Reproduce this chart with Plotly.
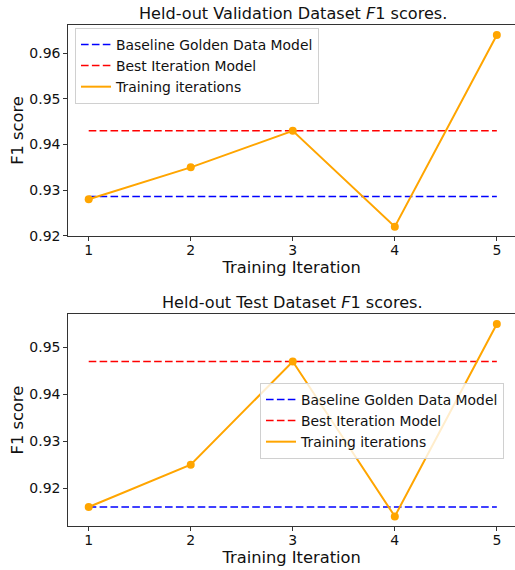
import plotly.graph_objects as go

iterations = [1, 2, 3, 4, 5]
val_scores = [0.928, 0.935, 0.943, 0.922, 0.964]
val_baseline = 0.9286
val_best = 0.943
test_scores = [0.916, 0.925, 0.947, 0.914, 0.955]
test_baseline = 0.916
test_best = 0.947

titles = ["Held-out Validation Dataset <i>F</i>1 scores.",
          "Held-out Test Dataset <i>F</i>1 scores."]
val_yticks = [0.92, 0.93, 0.94, 0.95, 0.96]
test_yticks = [0.92, 0.93, 0.94, 0.95]

FONT = "DejaVu Sans"
W, H = 515, 570
fig = go.Figure()

dash = "7.6px,3.3px"

def add_panel(scores, base, best, xa, ya, legend):
    fig.add_trace(go.Scatter(x=iterations, y=[base] * len(iterations), mode="lines",
                             line=dict(color="blue", width=1.5, dash=dash),
                             name="Baseline Golden Data Model", xaxis=xa, yaxis=ya,
                             legend=legend))
    fig.add_trace(go.Scatter(x=iterations, y=[best] * len(iterations), mode="lines",
                             line=dict(color="red", width=1.5, dash=dash),
                             name="Best Iteration Model", xaxis=xa, yaxis=ya,
                             legend=legend))
    fig.add_trace(go.Scatter(x=iterations, y=scores, mode="lines",
                             line=dict(color="orange", width=2),
                             name="Training iterations", xaxis=xa, yaxis=ya,
                             legend=legend))
    fig.add_trace(go.Scatter(x=iterations, y=scores, mode="markers",
                             marker=dict(color="orange", size=8),
                             showlegend=False, xaxis=xa, yaxis=ya, hoverinfo="skip"))

add_panel(val_scores, val_baseline, val_best, "x", "y", "legend")
add_panel(test_scores, test_baseline, test_best, "x2", "y2", "legend2")

xdom = [68.3 / W, 1.0]
top_dom = [(H - 236.3) / H, (H - 24.7) / H]
bot_dom = [(H - 526.0) / H, (H - 314.3) / H]

axis_common = dict(showgrid=False, zeroline=False, showline=True, linecolor="#333333",
                   linewidth=1, ticks="outside", ticklen=4, tickcolor="#333333",
                   tickfont=dict(family=FONT, size=14, color="#111"),
                   title_font=dict(family=FONT, size=16.3, color="#111"),
                   automargin=False)

xcommon = dict(domain=xdom, range=[0.8, 5.178], tickvals=iterations, mirror=True,
               ticklabelstandoff=-3, title=dict(text="Training Iteration", standoff=0))
ycommon = dict(tickformat=".2f", title=dict(text="F1 score", standoff=1))

leg_common = dict(xanchor="left", yanchor="top", bgcolor="rgba(255,255,255,0.8)",
                  bordercolor="#d0d0d0", borderwidth=1,
                  font=dict(family=FONT, size=13.9, color="#111"))

fig.update_layout(
    width=W, height=H,
    margin=dict(l=0, r=0, t=0, b=0, autoexpand=False),
    paper_bgcolor="white", plot_bgcolor="white",
    font=dict(family=FONT, color="#111"),
    xaxis=dict(anchor="y", **xcommon, **axis_common),
    yaxis=dict(domain=top_dom, anchor="x", range=[0.9199, 0.96625], tickvals=val_yticks,
               **ycommon, **axis_common),
    xaxis2=dict(anchor="y2", **xcommon, **axis_common),
    yaxis2=dict(domain=bot_dom, anchor="x2", range=[0.91195, 0.95705], tickvals=test_yticks,
                **ycommon, **axis_common),
    legend=dict(x=75 / W, y=(H - 28) / H, **leg_common),
    legend2=dict(x=260 / W, y=(H - 383) / H, **leg_common),
    showlegend=True,
)

for t, yc in zip(titles, [13.5, 302]):
    fig.add_annotation(text=t, x=(68.3 + 517) / 2 / W, y=(H - yc) / H, xref="paper", yref="paper",
                       xanchor="center", yanchor="middle", showarrow=False,
                       font=dict(family=FONT, size=16.1, color="#111"))

fig.write_html("out.html", config={"displayModeBar": False},
               post_script="document.body.style.margin='0';document.body.style.overflow='hidden';")
